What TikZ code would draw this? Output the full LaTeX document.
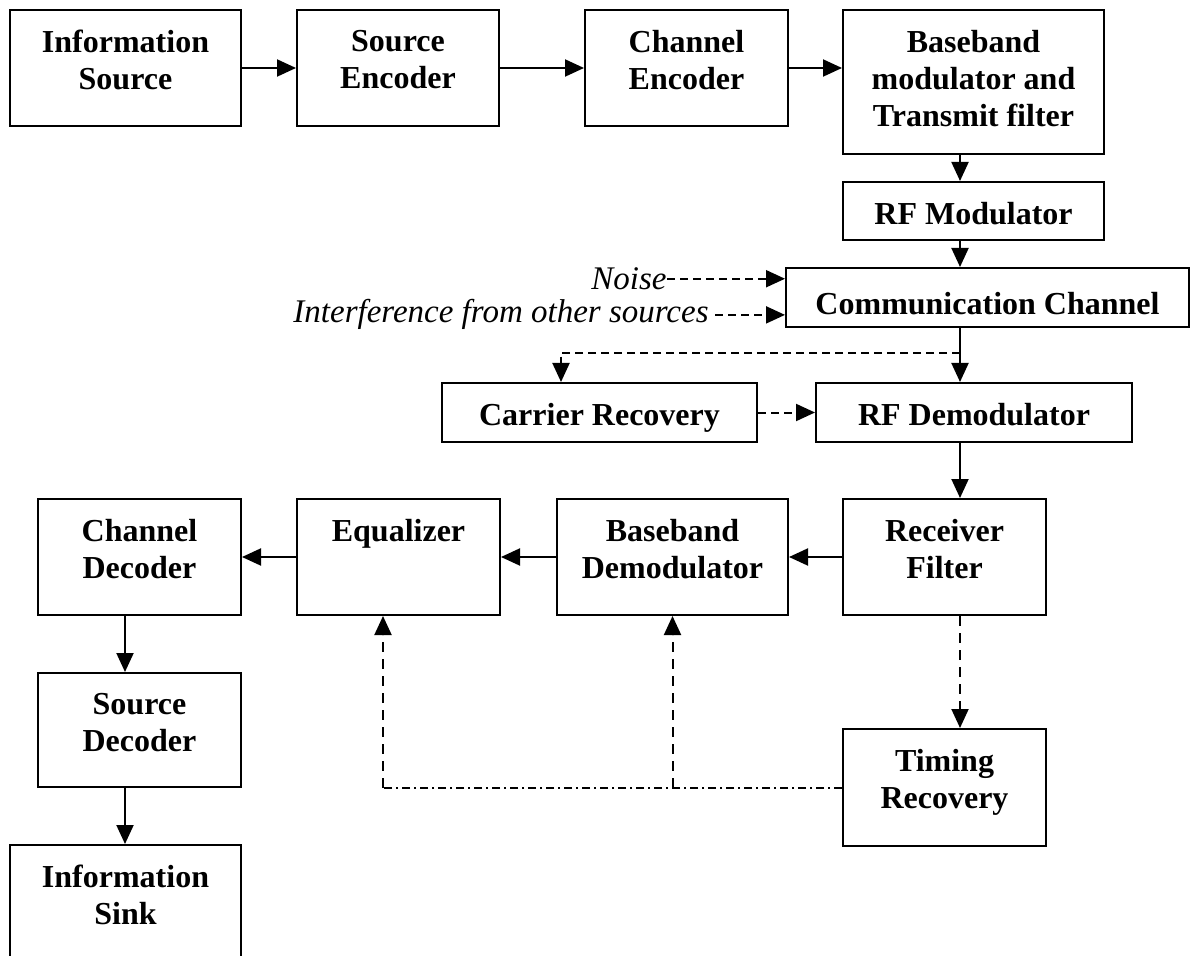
\documentclass[tikz,border=0pt]{standalone}
\usepackage{fontspec}
\setmainfont{Liberation Serif}
\usetikzlibrary{arrows.meta}
\tikzset{%
  blk/.style    = {draw, line width=1pt, rectangle, inner sep=0pt},%
  txt/.style    = {anchor=north, yshift=-10.5pt, inner sep=0pt, align=center,%
                   font=\fontsize{16}{18.5}\selectfont\bfseries},%
  side/.style   = {inner sep=0pt, anchor=base east,%
                   font=\fontsize{16.5}{19}\selectfont\itshape},%
  flow/.style   = {-{Triangle[length=9.5pt,width=8.5pt]}, line width=1pt},%
  dsh/.style    = {flow, dash pattern=on 4pt off 2.5pt},%
  lngdsh/.style = {flow, dash pattern=on 5pt off 3.5pt},%
  dshdot/.style = {line width=1pt, dash pattern=on 4pt off 2pt on 1pt off 2pt}%
}
\begin{document}
\begin{tikzpicture}[x=0.5pt,y=-0.5pt]
  \useasboundingbox (0,0) rectangle (1197,956);
  % columns used by the vertical connectors
  \coordinate (c1) at (125,0);
  \coordinate (c2) at (383,0);
  \coordinate (c3) at (561,0);
  \coordinate (c4) at (960,0);
  % transmitter
  \node[blk, minimum width=115.5pt, minimum height=58pt, label={[txt]north:{Information\\Source}}] (isrc) at (125.5,68) {};
  \node[blk, minimum width=101pt, minimum height=58pt, label={[txt]north:{Source\\Encoder}}] (senc) at (398,68) {};
  \node[blk, minimum width=101.5pt, minimum height=58pt, label={[txt]north:{Channel\\Encoder}}] (cenc) at (686.5,68) {};
  \node[blk, minimum width=130.5pt, minimum height=72pt, label={[txt]north:{Baseband\\modulator and\\Transmit filter}}] (bbmod) at (973.5,82) {};
  \node[blk, minimum width=130.5pt, minimum height=29pt, label={[txt]north:{RF Modulator}}] (rfmod) at (973.5,211) {};
  % channel
  \node[blk, minimum width=201.5pt, minimum height=29.5pt, label={[txt,yshift=-2pt]north:{Communication Channel}}] (chan) at (987.5,297.5) {};
  \node[side] (noise) at (667,289.5) {Noise};
  \node[side] (intf) at (709,323) {Interference from other sources};
  % receiver
  \node[blk, minimum width=157.5pt, minimum height=29.5pt, label={[txt]north:{Carrier Recovery}}] (crec) at (599.5,412.5) {};
  \node[blk, minimum width=158pt, minimum height=29.5pt, label={[txt]north:{RF Demodulator}}] (rfdem) at (974,412.5) {};
  \node[blk, minimum width=101.5pt, minimum height=58pt, label={[txt]north:{Receiver\\Filter}}] (rxf) at (944.5,557) {};
  \node[blk, minimum width=115.5pt, minimum height=58pt, label={[txt]north:{Baseband\\Demodulator}}] (bbdem) at (672.5,557) {};
  \node[blk, minimum width=101.5pt, minimum height=58pt, label={[txt]north:{Equalizer}}] (equ) at (398.5,557) {};
  \node[blk, minimum width=101.5pt, minimum height=58pt, label={[txt]north:{Channel\\Decoder}}] (cdec) at (139.5,557) {};
  \node[blk, minimum width=101.5pt, minimum height=57pt, label={[txt]north:{Source\\Decoder}}] (sdec) at (139.5,730) {};
  \node[blk, minimum width=115.5pt, minimum height=58pt, label={[txt]north:{Information\\Sink}}] (isink) at (125.5,903) {};
  \node[blk, minimum width=101.5pt, minimum height=58.5pt, label={[txt]north:{Timing\\Recovery}}] (trec) at (944.5,787.5) {};
  \coordinate (tap) at (960,352.7);

  \draw[flow] (isrc) -- (senc);
  \draw[flow] (senc) -- (cenc);
  \draw[flow] (cenc.east) -- (cenc.east -| bbmod.west);
  \draw[flow] (bbmod.south -| c4) -- (rfmod.north -| c4);
  \draw[flow] (rfmod.south -| c4) -- (chan.north -| c4);
  \draw[dsh] (noise.east) -- (noise.east -| chan.west);
  \draw[dsh, shorten <=3pt] (intf.east) -- (intf.east -| chan.west);
  \draw[flow] (chan.south -| c4) -- (rfdem.north -| c4);
  \draw[dsh] (tap) -| (crec.north -| c3);
  \draw[dsh] (crec) -- (rfdem);
  \draw[flow] (rfdem.south -| c4) -- (rxf.north -| c4);
  \draw[flow] (rxf) -- (bbdem);
  \draw[flow] (bbdem) -- (equ);
  \draw[flow] (equ) -- (cdec);
  \draw[flow] (cdec.south -| c1) -- (sdec.north -| c1);
  \draw[flow] (sdec.south -| c1) -- (isink.north -| c1);
  \draw[lngdsh] (rxf.south -| c4) -- (trec.north -| c4);
  \draw[dshdot] (trec.west) -- (trec.west -| c2);
  \draw[lngdsh] (trec.west -| c2) -- (equ.south -| c2);
  \draw[lngdsh] (trec.west -| bbdem.south) -- (bbdem.south);
\end{tikzpicture}
\end{document}
